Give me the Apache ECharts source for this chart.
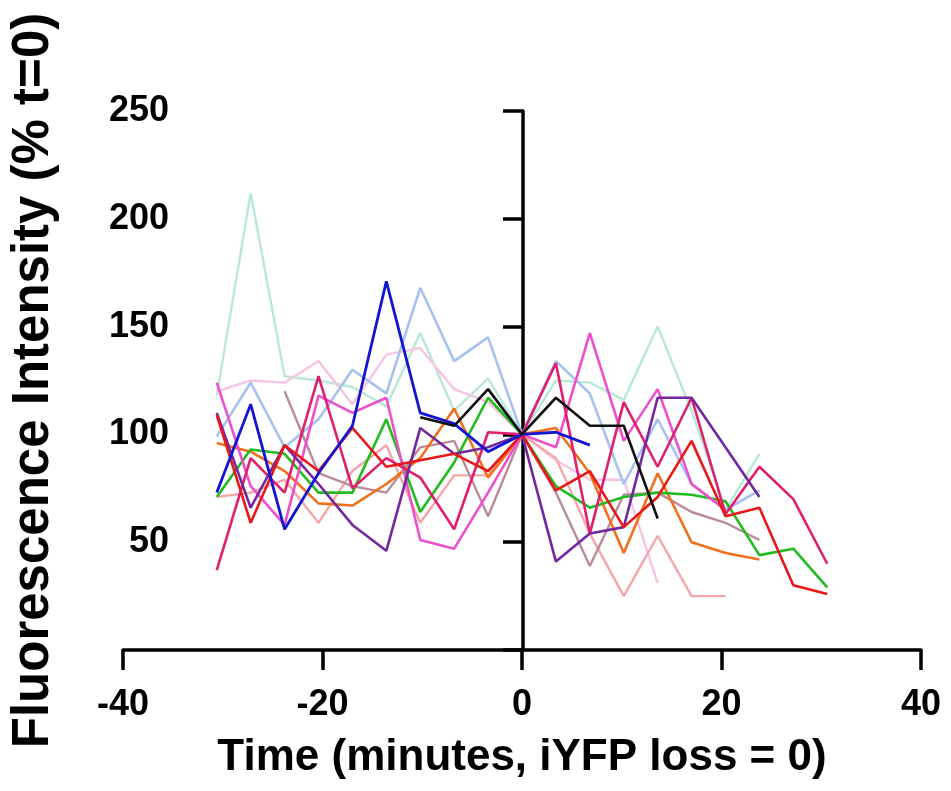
<!DOCTYPE html>
<html>
<head>
<meta charset="utf-8">
<script src="https://cdn.jsdelivr.net/npm/echarts@6/dist/echarts.min.js"></script>
<style>
html,body{margin:0;padding:0;background:#fff;}
#chart{width:951px;height:791px;}
</style>
</head>
<body>
<div id="chart"></div>
<script>
// Time points (minutes, iYFP loss = 0)
const times = [-30.6,-27.2,-23.8,-20.4,-17,-13.6,-10.2,-6.8,-3.4,0,3.4,6.8,10.2,13.6,17,20.4,23.8,27.2,30.6];

// Fluorescence intensity (% t=0), one array per cell
const mint      = [118,212,127,125,122,113,147,111,126,100,125,124,116,150,111,65,91,null,null];
const lightPink = [120,125,124,134,114,137,140,121,115,100,88,79,79,31,null,null,null,null,null];
const lightBlue = [99,124,94,107,130,119,168,134,145,100,134,119,77,107,77,65,74,null,null];
const salmon    = [71,73,79,59,83,95,59,81,81,100,89,54,25,53,25,25,null,null,null];
const brown     = [null,null,120,82,76,73,94,97,62,100,73,39,72,73,64,59,51,null,null];
const blue      = [73,114,56,82,104,171,110,105,92,100,101,95,null,null,null,null,null,null,null];
const black     = [null,null,null,null,null,null,108,104,121,100,117,104,104,61,null,null,null,null,null];
const green     = [71,93,91,73,73,107,64,87,117,100,76,66,71,73,72,69,44,47,29];
const orange    = [96,92,83,68,67,77,89,112,80,100,103,82,45,82,50,45,42,null,null];
const red       = [109,59,95,83,103,85,88,91,83,100,74,83,57,71,97,62,66,30,26];
const crimson   = [37,89,73,127,75,89,80,56,101,100,133,54,115,85,117,63,85,70,40];
const magenta   = [124,76,58,118,110,117,51,47,73,100,94,147,97,121,77,65,null,null,null];
const purple    = [110,66,95,77,58,46,103,91,94,100,41,54,57,117,117,94,71,null,null];

// Axis ticks
const xTicks = [-40,-20,0,20,40];
const yTicks = [50,100,150,200,250];

const seriesDefs = [
  {name:'mint', data:mint, color:'#b8e8d6', w:2.4},
  {name:'lightPink', data:lightPink, color:'#f6c4e4', w:2.4},
  {name:'lightBlue', data:lightBlue, color:'#a6c2ee', w:2.6},
  {name:'salmon', data:salmon, color:'#f4a6a8', w:2.4},
  {name:'brown', data:brown, color:'#b98c9a', w:2.4},
  {name:'orange', data:orange, color:'#f2701c', w:2.6},
  {name:'green', data:green, color:'#22bb22', w:2.6},
  {name:'magenta', data:magenta, color:'#ee50cc', w:2.6},
  {name:'crimson', data:crimson, color:'#e01f6e', w:2.6},
  {name:'purple', data:purple, color:'#7428a0', w:2.6},
  {name:'red', data:red, color:'#e81818', w:2.6},
  {name:'blue', data:blue, color:'#1414d4', w:2.8},
  {name:'black', data:black, color:'#111111', w:2.6}
];

const series = seriesDefs.map(s => ({
  name: s.name,
  type: 'line',
  xAxisIndex: 0,
  yAxisIndex: 0,
  data: times.map((t,i) => [t, s.data[i]]),
  showSymbol: false,
  symbol: 'none',
  connectNulls: false,
  lineStyle: {color: s.color, width: s.w},
  itemStyle: {color: s.color},
  z: 2
}));

const FONT = '"Liberation Sans", Arial, sans-serif';
const chart = echarts.init(document.getElementById('chart'), null, {renderer:'canvas'});
chart.setOption({
  animation: false,
  backgroundColor: '#fff',
  grid: {left:121, right:30, top:111, bottom:141, containLabel:false},
  xAxis: {
    type: 'value', min: -40, max: 40, interval: 20,
    name: 'Time (minutes, iYFP loss = 0)',
    nameLocation: 'middle', nameGap: 86,
    nameTextStyle: {fontFamily: FONT, fontWeight: 'bold', fontSize: 44, color: '#000'},
    axisLine: {show: true, onZero: false, lineStyle: {color:'#000', width: 3.5}},
    axisTick: {show: true, length: 20, lineStyle: {color:'#000', width: 3.5}},
    axisLabel: {fontFamily: FONT, fontWeight: 'bold', fontSize: 36, color: '#000', margin: 37,
      formatter: v => xTicks.includes(v) ? String(v) : ''},
    splitLine: {show: false}
  },
  yAxis: [
    {
      type: 'value', min: 0, max: 250, interval: 50,
      name: 'Fluorescence Intensity (% t=0)',
      nameLocation: 'middle', nameGap: 64,
      nameTextStyle: {fontFamily: FONT, fontWeight: 'bold', fontSize: 51, color: '#000'},
      axisLine: {show: false},
      axisTick: {show: false},
      axisLabel: {fontFamily: FONT, fontWeight: 'bold', fontSize: 36, color: '#000', margin: -46,
        formatter: v => yTicks.includes(v) ? String(v) : ''},
      splitLine: {show: false}
    },
    {
      type: 'value', min: 0, max: 250, interval: 50, position: 'left', offset: -400,
      axisLine: {show: true, onZero: false, lineStyle: {color:'#000', width: 3.5}},
      axisTick: {show: true, length: 20, lineStyle: {color:'#000', width: 3.5}},
      axisLabel: {show: false},
      splitLine: {show: false}
    }
  ],
  series: series
});
</script>
</body>
</html>
